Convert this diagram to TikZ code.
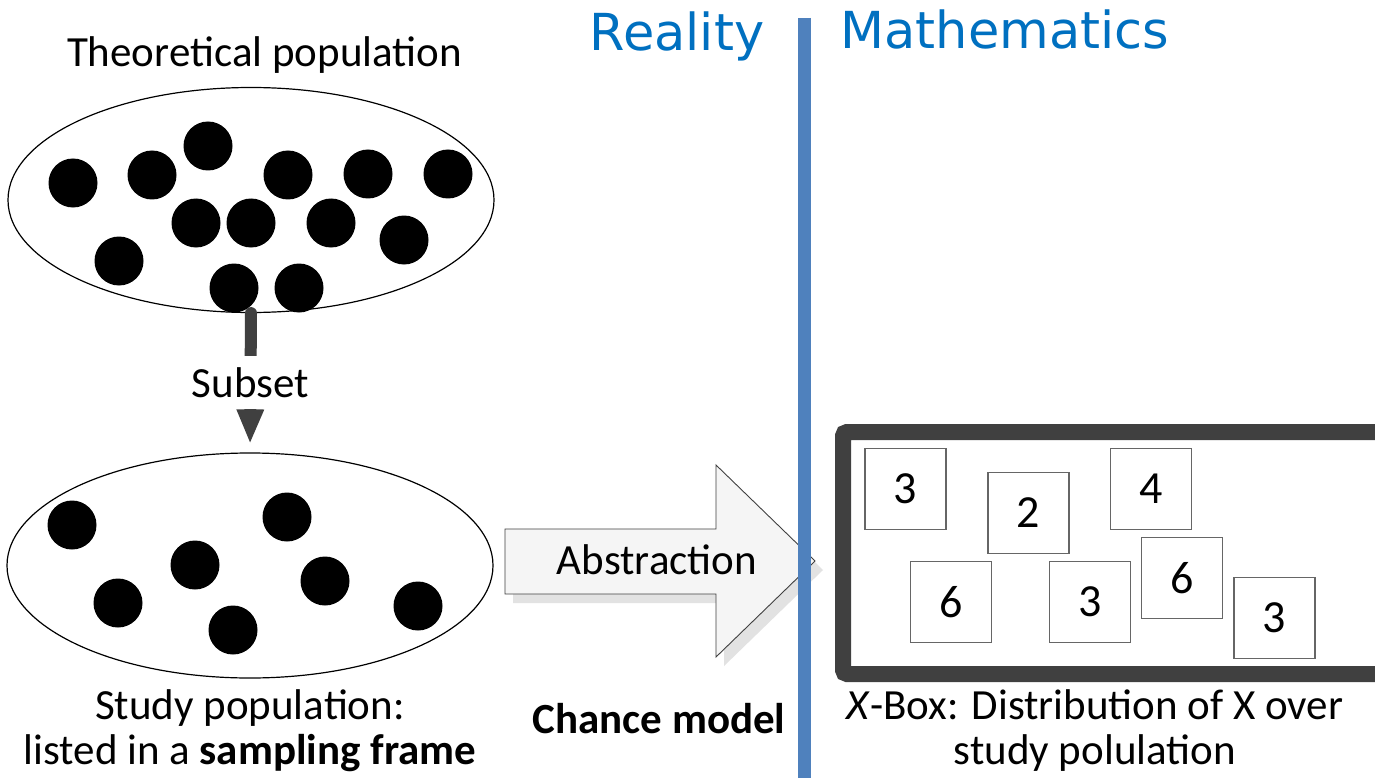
\documentclass[tikz,border=0pt]{standalone}
\usepackage{fontspec}
\setmainfont{Carlito}
\newfontfamily\headfont{DejaVu Sans}
\usetikzlibrary{shapes.geometric,arrows.meta}
\definecolor{headblue}{HTML}{0070C0}
\definecolor{barblue}{HTML}{4F81BD}
\definecolor{darkline}{HTML}{404040}
\definecolor{boxline}{HTML}{666666}
\definecolor{shadowgray}{HTML}{E2E2E2}
\definecolor{arrowfill}{HTML}{F5F5F5}
\begin{document}
\begin{tikzpicture}[x=1pt,y=-1pt,
  txt/.style={font=\fontsize{43}{45}\selectfont, inner sep=0, text=black},
  dot/.style={fill=black},
  pop/.style={ellipse, draw=black, line width=1.2, minimum width=486, minimum height=225, inner sep=0},
  valbox/.style={draw=boxline, line width=1.3, minimum width=81, minimum height=81, inner sep=0, font=\fontsize{46}{46}\selectfont},
  head/.style={font=\headfont\fontsize{51}{51}\selectfont, text=headblue, inner sep=0, anchor=base}
]
\useasboundingbox[fill=white] (0,0) rectangle (1375,778);

% headings
\node[head] (reality) at (677,51) {Reality};
\node[head] (math) at (1005,49) {Mathematics};

% theoretical population
\node[txt, anchor=base] (theo) at (264.5,67) {Theoretical population};
\node[pop] (toppop) at (251,200) {};
\foreach \p in {(73,183),(152,175),(208,146),(288,175),(368,174),(448,174),
                (196,223),(251,223),(331,223),(404,240),(119,261),(234,288),(299,288)}
  \fill[dot] \p circle (24.5);

% study population
\node[pop] (botpop) at (250,565.5) {};
\foreach \p in {(72,525),(287,517),(195,565),(325,581),(118,603),(233,630),(418,606)}
  \fill[dot] \p circle (24.5);

% subset connector
\draw[darkline, line width=12, line cap=round, shorten >=10pt,
      -{Triangle[length=33pt,width=28pt,line width=0pt]}]
  (toppop.south) -- node[pos=0.5, txt, fill=white, minimum height=53, minimum width=130] (subset) {Subset} (botpop.north);

\node[txt, anchor=base, align=center] (study) at (250,764)
  {Study population:\\listed in a \textbf{sampling frame}};

% abstraction arrow
\begin{scope}[shift={(8,9)}]
  \fill[shadowgray] (505,529) -- (716,529) -- (716,465) -- (815,561) -- (716,657) -- (716,594) -- (505,594) -- cycle;
\end{scope}
\draw[fill=arrowfill, draw=darkline, line width=0.9]
  (505,529) -- (716,529) -- (716,465) -- (815,561) -- (716,657) -- (716,594) -- (505,594) -- cycle;
\node[txt, anchor=base] (abs) at (657,574) {Abstraction};

\node[txt, anchor=base, font=\fontsize{43}{45}\selectfont\bfseries] (chance) at (659,733) {Chance model};

% reality / mathematics bar
\coordinate (bartop) at (804,18);
\coordinate (barbot) at (804,778);
\draw[barblue, line width=13] (bartop) -- (barbot);

% X-box
\node[draw=darkline, line width=16, rounded corners=4, minimum width=552, minimum height=242, inner sep=0] (xbox) at (1119,553) {};
\node[valbox] (b1) at (905.5,489) {3};
\node[valbox] (b2) at (1028.5,513) {2};
\node[valbox] (b3) at (1151,489) {4};
\node[valbox] (b4) at (951,601.7) {6};
\node[valbox] (b5) at (1090,601.7) {3};
\node[valbox] (b6) at (1182,578) {6};
\node[valbox] (b7) at (1274.5,618) {3};

\node[txt, anchor=base, align=center] (xlabel) at (1095,764)
  {\textit{X}-Box: Distribution of X over\\study polulation};
\end{tikzpicture}
\end{document}
